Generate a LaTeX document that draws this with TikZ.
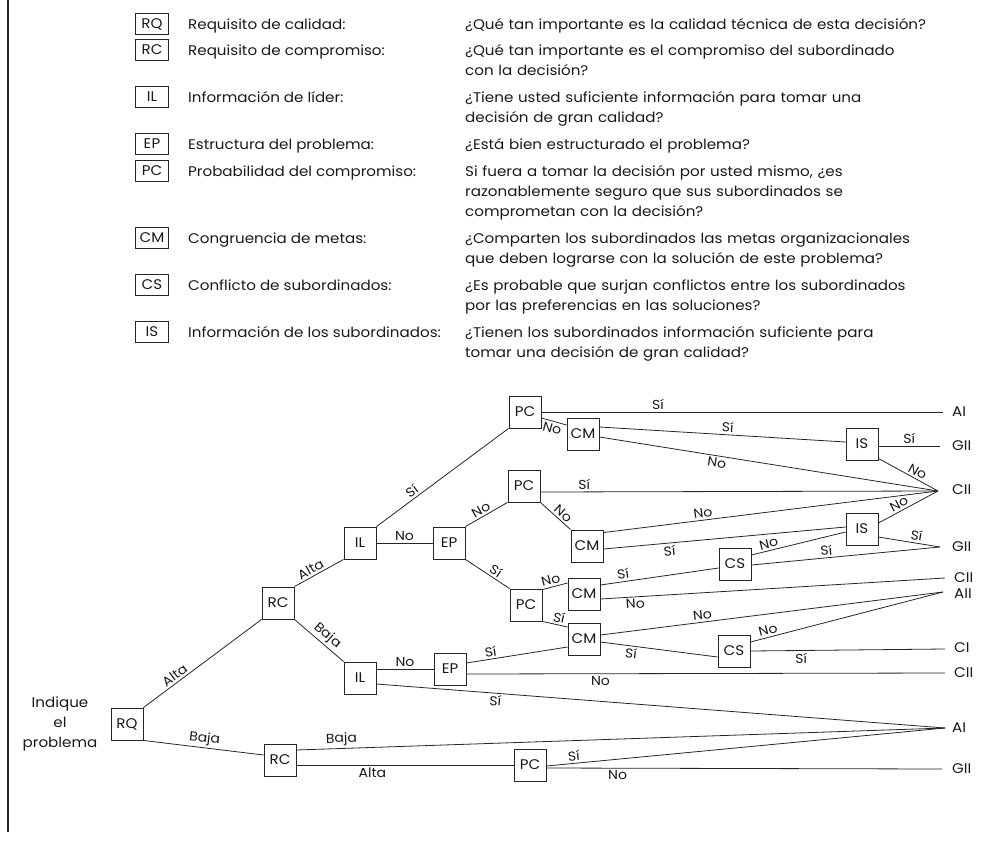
\documentclass[tikz,border=0pt]{standalone}
\usepackage{fontspec}
\setmainfont[FakeStretch=1.08]{Poppins}
\begin{document}
\begin{tikzpicture}[x=1pt,y=-1pt,
  box/.style={draw=black!85, line width=0.9pt, minimum width=32pt, minimum height=32pt, inner sep=0pt, text=black!90, font=\fontsize{14}{16}\selectfont},
  lbox/.style={box, minimum width=33pt, minimum height=21pt},
  ln/.style={draw=black!85, line width=0.8pt},
  lab/.style={font=\fontsize{13}{15}\selectfont, text=black!90, inner sep=2pt, sloped},
  txt/.style={font=\fontsize{14}{20}\selectfont, text=black!90, inner sep=0pt, anchor=base west},
  qtxt/.style={txt, text width=515pt, align=left},
  outl/.style={font=\fontsize{14}{16}\selectfont, text=black!90, inner sep=0pt, anchor=west}
]
\useasboundingbox (0,0) rectangle (985,841);
\draw[line width=1.3pt, black!85] (8,0) -- (8,832);

% ---------- legend ----------
\node[lbox] (kRQ) at (152,24) {RQ};
\node[txt] (lRQ) at (188,29) {Requisito de calidad:};
\node[qtxt] (qRQ) at (465,29) {¿Qué tan importante es la calidad técnica de esta decisión?};

\node[lbox] (kRC) at (152,50) {RC};
\node[txt] (lRC) at (188,55) {Requisito de compromiso:};
\node[qtxt] (qRC) at (465,55) {¿Qué tan importante es el compromiso del subordinado\\con la decisión?};

\node[lbox] (kIL) at (152,97) {IL};
\node[txt] (lIL) at (188,102) {Información de líder:};
\node[qtxt] (qIL) at (465,102) {¿Tiene usted suficiente información para tomar una\\decisión de gran calidad?};

\node[lbox] (kEP) at (152,144) {EP};
\node[txt] (lEP) at (188,149) {Estructura del problema:};
\node[qtxt] (qEP) at (465,149) {¿Está bien estructurado el problema?};

\node[lbox] (kPC) at (152,171) {PC};
\node[txt] (lPC) at (188,176) {Probabilidad del compromiso:};
\node[qtxt] (qPC) at (465,176) {Si fuera a tomar la decisión por usted mismo, ¿es\\razonablemente seguro que sus subordinados se\\comprometan con la decisión?};

\node[lbox] (kCM) at (152,238) {CM};
\node[txt] (lCM) at (188,243) {Congruencia de metas:};
\node[qtxt] (qCM) at (465,243) {¿Comparten los subordinados las metas organizacionales\\que deben lograrse con la solución de este problema?};

\node[lbox] (kCS) at (152,285) {CS};
\node[txt] (lCS) at (188,290) {Conflicto de subordinados:};
\node[qtxt] (qCS) at (465,290) {¿Es probable que surjan conflictos entre los subordinados\\por las preferencias en las soluciones?};

\node[lbox] (kIS) at (152,332) {IS};
\node[txt] (lIS) at (188,337) {Información de los subordinados:};
\node[qtxt] (qIS) at (465,337) {¿Tienen los subordinados información suficiente para\\tomar una decisión de gran calidad?};

% ---------- tree nodes ----------
\node[font=\fontsize{14}{20}\selectfont, text=black!90, align=center] (start) at (60,724) {Indique\\el\\problema};
\node[box] (RQ) at (127,724) {RQ};
\node[box] (RC1) at (278,603) {RC};
\node[box] (RC2) at (280,760) {RC};
\node[box] (IL1) at (360,543) {IL};
\node[box] (IL2) at (360,678) {IL};
\node[box] (EP1) at (449,543) {EP};
\node[box] (EP2) at (450,669) {EP};
\node[box] (PC1) at (525,412) {PC};
\node[box] (PC2) at (524,486) {PC};
\node[box] (PC3) at (526,605) {PC};
\node[box] (PC4) at (530,765) {PC};
\node[box] (CM1) at (583,434) {CM};
\node[box] (CM2) at (587,546) {CM};
\node[box] (CM3) at (584,594) {CM};
\node[box] (CM4) at (584,639) {CM};
\node[box] (CS1) at (735,564) {CS};
\node[box] (CS2) at (734,651) {CS};
\node[box] (IS1) at (862,444) {IS};
\node[box] (IS2) at (862,529) {IS};

% outcomes
\coordinate (oAIa) at (943,412);
\coordinate (oGIIa) at (940,446);
\coordinate (oCIIa) at (938,491);
\coordinate (oGIIb) at (940,547);
\coordinate (oCIIb) at (945,578);
\coordinate (oAII) at (943,592);
\coordinate (oCI) at (945,649);
\coordinate (oCIIc) at (945,673);
\coordinate (oAIb) at (945,728);
\coordinate (oGIIc) at (942,769);
\node[outl] (tAIa) at (952,412) {AI};
\node[outl] (tGIIa) at (952,446) {GII};
\node[outl] (tCIIa) at (952,490) {CII};
\node[outl] (tGIIb) at (952,547) {GII};
\node[outl] (tCIIb) at (954,578) {CII};
\node[outl] (tAII) at (954,594) {AII};
\node[outl] (tCI) at (954,648) {CI};
\node[outl] (tCIIc) at (954,673) {CII};
\node[outl] (tAIb) at (952,728) {AI};
\node[outl] (tGIIc) at (952,769) {GII};

% ---------- connectors ----------
\draw[ln] (RQ.north east) -- node[lab, above, pos=.3] {Alta} (RC1.south west);
\draw[ln] (RQ.south east) -- node[lab, above, pos=.5] {Baja} ([yshift=5pt]RC2.west);
\draw[ln] (RC1.north east) -- node[lab, above, pos=.4] {Alta} (IL1.south west);
\draw[ln] (RC1.south east) -- node[lab, above, pos=.55] {Baja} (IL2.north west);
\draw[ln] (IL1.east) -- node[lab, above, pos=.5] {No} (EP1.west);
\draw[ln] (IL1.north east) -- node[lab, above, pos=.3] {Sí} (PC1.south west);
\draw[ln] (EP1.north east) -- node[lab, above, pos=.45] {No} (PC2.south west);
\draw[ln] (EP1.south east) -- node[lab, above, pos=.6] {Sí} (PC3.north west);
\draw[ln] ([yshift=9pt]IL2.east) -- node[lab, above, pos=.5] {No} (EP2.west);
\draw[ln] ([yshift=-6pt]IL2.east) -- node[lab, below, pos=.21] {Sí} (oAIb);
\draw[ln] ([yshift=6pt]EP2.east) -- node[lab, above, pos=.25] {Sí} ([yshift=-8pt]CM4.west);
\draw[ln] ([yshift=-5pt]EP2.east) -- node[lab, below, pos=.28] {No} (oCIIc);

\draw[ln] (PC1.east) -- node[lab, above, pos=.29] {Sí} (oAIa);
\draw[ln] ([yshift=-6pt]PC1.east) -- node[lab, below, pos=.5] {No} ([yshift=9pt]CM1.west);
\draw[ln] ([yshift=7pt]CM1.east) -- node[lab, above, pos=.52] {Sí} ([yshift=2pt]IS1.west);
\draw[ln] ([yshift=-3pt]CM1.east) -- node[lab, below, pos=.35] {No} (oCIIa);
\draw[ln] ([yshift=-2pt]IS1.east) -- node[lab, above, pos=.5] {Sí} (oGIIa);
\draw[ln] ([yshift=2pt]IS1.south east) -- node[lab, above, pos=.6] {No} (oCIIa);

\draw[ln] ([yshift=-6pt]PC2.east) -- node[lab, above, pos=.11] {Sí} (oCIIa);
\draw[ln] (PC2.south east) -- node[lab, above, pos=.6] {No} (CM2.north west);
\draw[ln] ([yshift=-3pt]CM2.north east) -- node[lab, above, pos=.3] {No} (oCIIa);
\draw[ln] ([yshift=-3pt]CM2.east) -- node[lab, below, pos=.27] {Sí} ([yshift=2pt]IS2.west);
\draw[ln] ([yshift=6pt]IS2.east) -- node[lab, above, pos=.4] {No} (oCIIa);
\draw[ln] ([yshift=-8pt]IS2.east) -- node[lab, above, pos=.6] {Sí} (oGIIb);

\draw[ln] ([yshift=-1pt]PC3.north east) -- node[lab, above, pos=.4] {No} ([yshift=11pt]CM3.west);
\draw[ln] (PC3.south east) -- node[lab, above, pos=.6] {Sí} ([yshift=12pt]CM4.west);
\draw[ln] ([yshift=9pt]CM3.east) -- node[lab, above, pos=.2] {Sí} ([yshift=-4pt]CS1.west);
\draw[ln] ([yshift=-5pt]CM3.east) -- node[lab, below, pos=.1] {No} (oCIIb);
\draw[ln] ([yshift=9pt]CS1.east) -- node[lab, above, pos=.2] {No} ([yshift=-3pt]IS2.west);
\draw[ln] ([yshift=-1pt]CS1.east) -- node[lab, above, pos=.4] {Sí} (oGIIb);

\draw[ln] ([yshift=4pt]CM4.east) -- node[lab, above, pos=.3] {No} (oAII);
\draw[ln] ([yshift=-3pt]CM4.east) -- node[lab, below, pos=.27] {Sí} ([yshift=-6pt]CS2.west);
\draw[ln] ([yshift=9pt]CS2.east) -- node[lab, above, pos=.1] {No} (oAII);
\draw[ln] (CS2.east) -- node[lab, below, pos=.26] {Sí} (oCI);

\draw[ln] ([yshift=10pt]RC2.east) -- node[lab, above, pos=.07] {Baja} (oAIb);
\draw[ln] ([yshift=-5pt]RC2.east) -- node[lab, below, pos=.35] {Alta} (PC4.west);
\draw[ln] ([yshift=-1pt]PC4.east) -- node[lab, above, pos=.07] {Sí} (oAIb);
\draw[ln] ([yshift=-3pt]PC4.east) -- node[lab, below, pos=.18] {No} (oGIIc);
\end{tikzpicture}
\end{document}
